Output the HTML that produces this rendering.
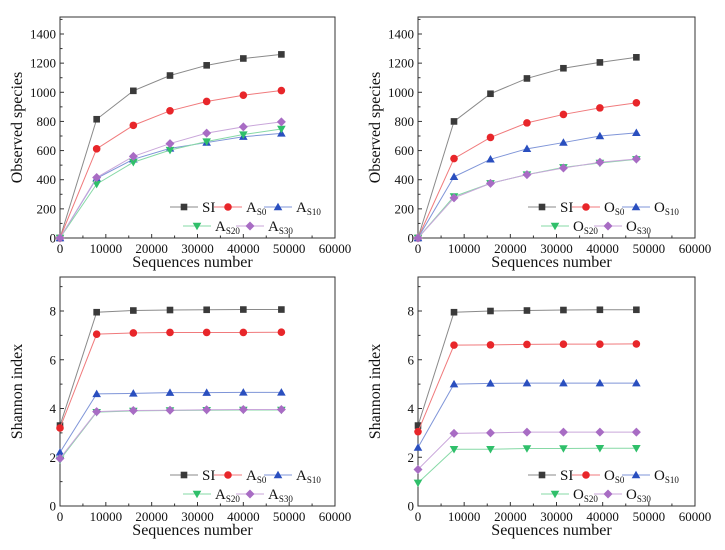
<!DOCTYPE html>
<html><head><meta charset="utf-8"><style>
body{margin:0;background:#fff;}
svg, svg text{font-family:"Liberation Serif","Times New Roman",serif;}
svg{display:block;}
</style></head><body>
<svg id="c" width="725" height="550" font-family="Liberation Serif, serif"></svg>
<script>
const xTicks=[0,10000,20000,30000,40000,50000,60000];
const xA=[0,8000,16000,24000,32000,40000,48300];
const xO=[0,7800,15700,23600,31500,39400,47300];
const obsTicks=[0,200,400,600,800,1000,1200,1400];
const shTicks=[0,2,4,6,8];
const aSI=[0,815,1010,1115,1185,1232,1260];
const aS0=[0,612,773,873,937,980,1012];
const aS10=[0,410,540,615,655,695,718];
const aS20=[0,370,520,603,662,710,748];
const aS30=[0,415,560,648,720,763,797];
const oSI=[0,800,990,1095,1165,1205,1240];
const oS0=[0,545,690,790,848,893,928];
const oS10=[0,420,540,612,655,700,722];
const oS20=[0,285,375,435,485,515,540];
const oS30=[0,275,375,435,480,520,542];
const haSI=[3.3,7.95,8.02,8.04,8.05,8.06,8.06];
const haS0=[3.2,7.05,7.1,7.12,7.12,7.12,7.13];
const haS10=[2.2,4.6,4.62,4.65,4.65,4.66,4.66];
const haS20=[1.9,3.85,3.9,3.92,3.93,3.94,3.94];
const haS30=[1.95,3.87,3.92,3.93,3.95,3.96,3.96];
const hoSI=[3.3,7.95,8.0,8.02,8.04,8.05,8.05];
const hoS0=[3.05,6.6,6.61,6.63,6.64,6.64,6.65];
const hoS10=[2.4,5.0,5.03,5.04,5.04,5.04,5.04];
const hoS20=[0.95,2.33,2.33,2.36,2.36,2.37,2.37];
const hoS30=[1.5,2.98,3.0,3.03,3.03,3.03,3.03];

const NS='http://www.w3.org/2000/svg';
const svg=document.getElementById('c');
const FF='Liberation Serif, serif';
function mk(tag,attrs,parent){const e=document.createElementNS(NS,tag);for(const k in attrs)e.setAttribute(k,attrs[k]);if(tag==='text')e.setAttribute('font-family',FF);(parent||svg).appendChild(e);return e;}
const styles=[
 {c:'#3a3a3a',l:'#8a8a8a',m:'sq'},
 {c:'#e8262a',l:'#f07a7c',m:'ci'},
 {c:'#2a4fbf',l:'#7f95d8',m:'up'},
 {c:'#2fbf6a',l:'#86d9a6',m:'dn'},
 {c:'#a86cc4',l:'#c9a6da',m:'di'}];
function marker(g,t,x,y,col){
 let e;
 if(t==='sq')e=mk('rect',{x:x-3.3,y:y-3.3,width:6.6,height:6.6,fill:col},g);
 else if(t==='ci')e=mk('circle',{cx:x,cy:y,r:3.8,fill:col},g);
 else if(t==='up')e=mk('polygon',{points:`${x},${y-4.3} ${x+4.3},${y+3.2} ${x-4.3},${y+3.2}`,fill:col},g);
 else if(t==='dn')e=mk('polygon',{points:`${x},${y+4.3} ${x+4.3},${y-3.2} ${x-4.3},${y-3.2}`,fill:col},g);
 else e=mk('polygon',{points:`${x},${y-4.5} ${x+4.5},${y} ${x},${y+4.5} ${x-4.5},${y}`,fill:col},g);
 
 
}
function panel(name,L,R,T,B,ymin0,yPerUnitTop,yTicks,yMinorStep,ytitle,xs,series,letter){
 const g=mk('g',{});
 
 
 const sx=v=>L+(v/60000)*(R-L);
 const ymax=yTicks[yTicks.length-1];
 const sy=v=>B-(v/ymax)*(yPerUnitTop);
 const box=mk('rect',{x:L,y:T,width:R-L,height:B-T,fill:'none',stroke:'#333','stroke-width':1},g);
 
 xTicks.forEach((t,i)=>{
  const x=sx(t);mk('line',{x1:x,x2:x,y1:B,y2:B-4,stroke:'#333'},g);
  if(i<xTicks.length-1){const xm=sx(t+5000);mk('line',{x1:xm,x2:xm,y1:B,y2:B-2.5,stroke:'#333'},g);}
  const tx=mk('text',{x:x,y:B+15,'font-size':13,'text-anchor':'middle',fill:'#111'},g);tx.textContent=t;
  
 });
 yTicks.forEach((t,i)=>{
  const y=sy(t);mk('line',{x1:L,x2:L+4,y1:y,y2:y,stroke:'#333'},g);
  const ym=sy(t+yMinorStep);if(ym>T)mk('line',{x1:L,x2:L+2.5,y1:ym,y2:ym,stroke:'#333'},g);
  const tx=mk('text',{x:L-4,y:y+4.5,'font-size':13,'text-anchor':'end',fill:'#111'},g);tx.textContent=t;
  
 });
 const xt=mk('text',{x:(L+R)/2-5,y:B+29,'font-size':16,'text-anchor':'middle',fill:'#111'},g);xt.textContent='Sequences number';
 
 const yt=mk('text',{x:0,y:0,'font-size':16,'text-anchor':'middle',fill:'#111',transform:`translate(${L-38},${(T+B)/2}) rotate(-90)`},g);yt.textContent=ytitle;
 
 series.forEach((s,i)=>{
  const st=styles[i];
  const pts=s.map((v,j)=>sx(xs[j])+','+sy(v)).join(' ');
  const pl=mk('polyline',{points:pts,fill:'none',stroke:st.l,'stroke-width':1},g);
  
  s.forEach((v,j)=>marker(g,st.m,sx(xs[j]),sy(v),st.c));
 });
 const lg=mk('g',{},g);
 
 const r1=B-31,r2=B-12;
 const ent=[[L+124,r1,'SI',''],[L+168,r1,letter,'S0'],[L+218,r1,letter,'S10'],[L+137,r2,letter,'S20'],[L+190,r2,letter,'S30']];
 ent.forEach((e,i)=>{
  const st=styles[i];
  const le=mk('g',{},lg);
  
  mk('line',{x1:e[0]-14,x2:e[0]+14,y1:e[1],y2:e[1],stroke:st.l},le);
  marker(le,st.m,e[0],e[1],st.c);
  const t=mk('text',{x:e[0]+18,y:e[1]+5,'font-size':15,fill:'#111'},le);
  if(e[3]===''){t.textContent=e[2];}
  else{t.textContent=e[2];const sp=mk('tspan',{'font-size':9,dy:3,'font-family':FF},t);sp.textContent=e[3];}
 });
}
panel('observed-species-a',60,335,17,238,0,204,obsTicks,100,'Observed species',xA,[aSI,aS0,aS10,aS20,aS30],'A');
panel('observed-species-o',418,695,17,238,0,204,obsTicks,100,'Observed species',xO,[oSI,oS0,oS10,oS20,oS30],'O');
panel('shannon-a',60,335,277,506,0,195,shTicks,1,'Shannon index',xA,[haSI,haS0,haS10,haS20,haS30],'A');
panel('shannon-o',418,695,277,506,0,195,shTicks,1,'Shannon index',xO,[hoSI,hoS0,hoS10,hoS20,hoS30],'O');
</script>
</body></html>
